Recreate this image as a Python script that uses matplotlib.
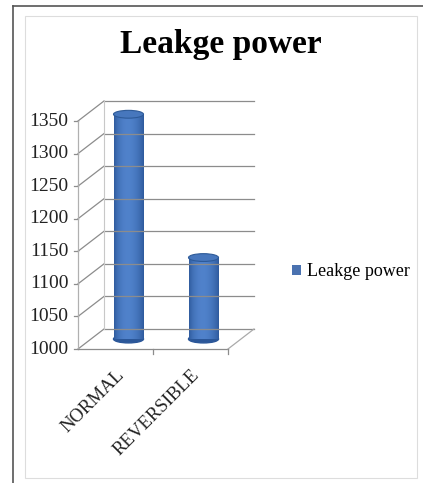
import numpy as np
import matplotlib.pyplot as plt
from matplotlib.patches import Ellipse, Rectangle
from matplotlib.transforms import ScaledTranslation
from matplotlib.lines import Line2D

plt.rcParams['font.family'] = ['Liberation Serif', 'DejaVu Serif']

# Data
categories = ["NORMAL", "REVERSIBLE"]
values = [1345, 1125]
series_name = "Leakge power"
y_ticks = [1000, 1050, 1100, 1150, 1200, 1250, 1300, 1350]

W, H = 423, 483
fig = plt.figure(figsize=(W / 100, H / 100), dpi=100)

def px(x, y):
    # pixel coords (from top-left) -> figure fraction
    return x / W, 1 - y / H

# outer frame of the screenshot
fig.add_artist(Line2D([13 / W, 13 / W], [0, 1 - 6 / H], color='#555555', lw=1.2))
fig.add_artist(Line2D([13 / W, 1], [1 - 6 / H, 1 - 6 / H], color='#555555', lw=1.2))
# chart area border
fig.add_artist(Rectangle(px(25, 478), (417 - 25) / W, (478 - 16) / H, fill=False,
                         edgecolor='#dddddd', lw=0.8))

fig.text(221 / W, 1 - 53 / H, "Leakge power", ha='center', va='baseline',
         fontsize=24, fontweight='bold')

# front axis box
x0, x1 = 78, 228
ytop, ybot = 121, 349
l, b = px(x0, ybot)
ax = fig.add_axes([l, b, (x1 - x0) / W, (ybot - ytop) / H])
ax.set_xlim(0, 2)
ax.set_ylim(1000, 1350)
ax.axis('off')

back = ax.transData + ScaledTranslation(0.26, 0.20, fig.dpi_scale_trans)
mid = ax.transData + ScaledTranslation(0.13, 0.10, fig.dpi_scale_trans)

grid_c = '#8c8c8c'
for v in y_ticks:
    ax.plot([0, 2], [v, v], transform=back, color=grid_c, lw=0.9, clip_on=False)
    xs_f = ax.transData.transform((0, v))
    xs_b = back.transform((0, v))
    ax.plot([xs_f[0], xs_b[0]], [xs_f[1], xs_b[1]], transform=None,
            color=grid_c, lw=0.9, clip_on=False)
    # tick + label
    ax.plot([-0.05, 0], [v, v], color=grid_c, lw=0.9, clip_on=False)
    ax.text(-0.13, v, str(v), ha='right', va='center', fontsize=14, color='#222222')

# vertical axis lines
ax.plot([0, 0], [1000, 1350], color='#b0b0b0', lw=0.9, clip_on=False)
ax.plot([0, 0], [1000, 1350], transform=back, color='#c8c8c8', lw=0.8, clip_on=False)
# floor edges
ax.plot([0, 2], [1000, 1000], color=grid_c, lw=0.9, clip_on=False)
p2f = ax.transData.transform((2, 1000))
p2b = back.transform((2, 1000))
ax.plot([p2f[0], p2b[0]], [p2f[1], p2b[1]], transform=None, color='#aaaaaa',
        lw=0.9, clip_on=False)
for i in range(1, 3):
    ax.plot([i, i], [1000, 992], color=grid_c, lw=0.9, clip_on=False)

# cylinders
bw = 0.4
ell_h = 12
nstrip = 30
dark = np.array([0.17, 0.34, 0.60])
light = np.array([0.33, 0.53, 0.82])
for i, v in enumerate(values):
    cx = i + 0.5
    ax.add_patch(Ellipse((cx, 1000), bw, ell_h, transform=mid, color=dark, clip_on=False))
    edges = np.linspace(cx - bw / 2, cx + bw / 2, nstrip + 1)
    for k in range(nstrip):
        t = (k + 0.5) / nstrip
        shade = np.sin(np.pi * t) ** 0.7 * (1 - 0.25 * t)
        c = dark + (light - dark) * shade
        ax.add_patch(Rectangle((edges[k], 1000), edges[k + 1] - edges[k], v - 1000,
                               transform=mid, color=c, lw=0, clip_on=False))
    ax.add_patch(Ellipse((cx, v), bw, ell_h, transform=mid, facecolor='#4777bd',
                         edgecolor='#2d5a98', lw=0.8, clip_on=False))
    ax.text(cx, 1000, categories[i], rotation=45, rotation_mode='anchor',
            ha='right', va='top', fontsize=13.5, color='#222222',
            transform=ax.transData + ScaledTranslation(0.0, -0.17, fig.dpi_scale_trans))

# legend
ax.legend(handles=[Rectangle((0, 0), 1, 1, facecolor='#4a72b0', edgecolor='none')],
          labels=[series_name], loc='center left',
          bbox_to_anchor=(276 / W, 1 - 272 / H), bbox_transform=fig.transFigure,
          frameon=False, fontsize=13, handlelength=0.5, handleheight=0.5,
          handletextpad=0.3)

fig.savefig('out.png', dpi=100, facecolor='white')
